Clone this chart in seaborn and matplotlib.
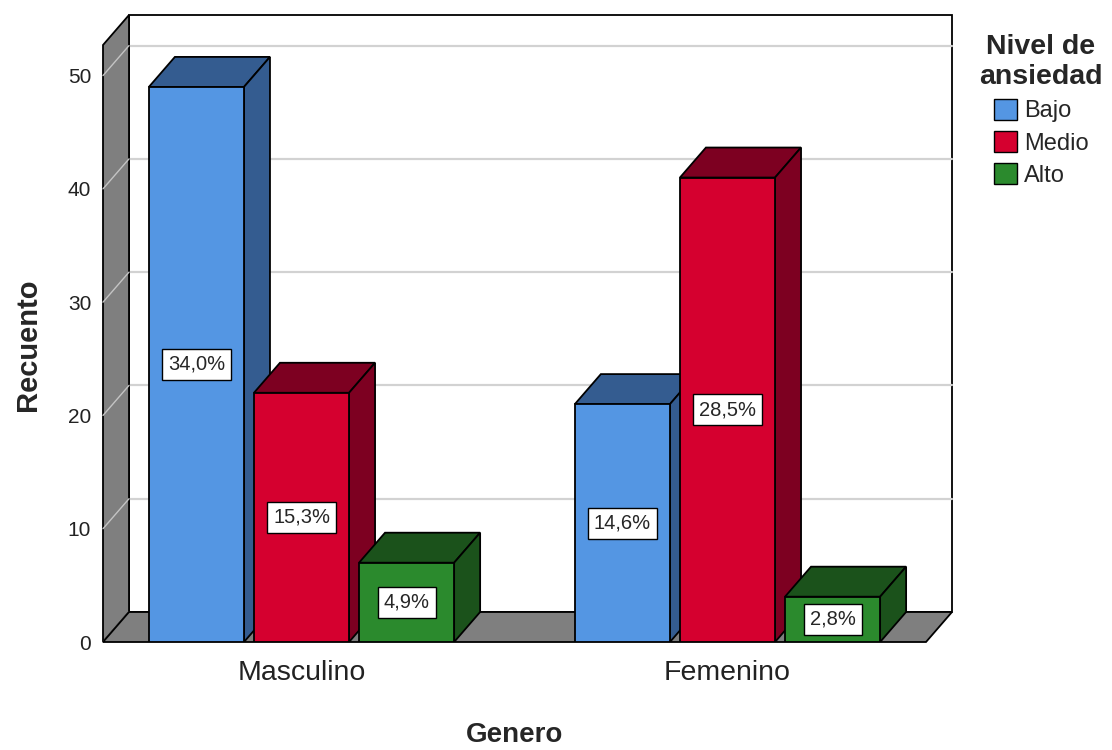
import numpy as np
import pandas as pd
import matplotlib
matplotlib.use("Agg")
import matplotlib.pyplot as plt
from matplotlib.patches import Polygon, Patch
import seaborn as sns

# Counts per gender and anxiety level
generos = ["Masculino", "Femenino"]
niveles = ["Bajo", "Medio", "Alto"]
recuento_masculino = [49, 22, 7]
recuento_femenino = [21, 41, 4]
marcas_y = [0, 10, 20, 30, 40, 50]

# Front-face colours and darker shades for top/side faces
colores = ["#5496e3", "#d5002f", "#2b8a2d"]
colores_sombra = ["#345c90", "#7d0021", "#1b521b"]

df = pd.DataFrame({
    "Genero": np.repeat(generos, len(niveles)),
    "Nivel": niveles * len(generos),
    "Recuento": recuento_masculino + recuento_femenino,
})
total = df["Recuento"].sum()

sns.set_style("white")
plt.rcParams["font.family"] = ["Liberation Sans", "DejaVu Sans"]

W, H = 1112, 750
fig = plt.figure(figsize=(W / 100, H / 100), dpi=100)
ax = fig.add_axes([103 / W, (H - 642) / H, 823 / W, 597 / H])

sns.barplot(data=df, x="Genero", y="Recuento", hue="Nivel",
            order=generos, hue_order=niveles, palette=colores,
            width=0.74, gap=0.095, saturation=1, edgecolor="black",
            linewidth=1.3, legend=False, ax=ax)

ax.set_xlim(-0.466, 1.466)
ax.set_ylim(0, 52.7)
xl, xr = ax.get_xlim()
yb, yt = ax.get_ylim()

# depth of the pseudo-3D box, in pixels, converted to data units
p0 = ax.transData.transform((0, 0))
p1 = ax.transData.transform((1, 1))
ddx = 26 / (p1[0] - p0[0])
ddy = 30 / (p1[1] - p0[1])

for s in ax.spines.values():
    s.set_visible(False)
ax.set_facecolor("none")
ax.grid(False)

# back wall with gridlines
ax.add_patch(Polygon([(xl + ddx, ddy), (xr + ddx, ddy), (xr + ddx, yt + ddy), (xl + ddx, yt + ddy)],
                     closed=True, fc="white", ec="black", lw=1.3, clip_on=False, zorder=0.5))
for v in marcas_y[1:]:
    ax.plot([xl + ddx, xr + ddx], [v + ddy, v + ddy], color="#d2d2d2", lw=1.6,
            clip_on=False, zorder=0.6)

# left side wall
ax.add_patch(Polygon([(xl, 0), (xl, yt), (xl + ddx, yt + ddy), (xl + ddx, ddy)],
                     closed=True, fc="#7f7f7f", ec="black", lw=1.3, clip_on=False, zorder=0.7))
for v in marcas_y:
    ax.plot([xl, xl + ddx], [v, v + ddy], color="#c4c4c4", lw=1.0, clip_on=False, zorder=0.8)

# floor
ax.add_patch(Polygon([(xl, 0), (xr, 0), (xr + ddx, ddy), (xl + ddx, ddy)],
                     closed=True, fc="#7f7f7f", ec="black", lw=1.3, clip_on=False, zorder=0.9))

# give every bar its top and side face, drawn left to right
barras = []
for hi, cont in enumerate(ax.containers):
    for bar in cont:
        barras.append((bar.get_x(), bar, hi))
barras.sort(key=lambda t: t[0])

for k, (_, bar, hi) in enumerate(barras):
    z = 3 + k
    x0 = bar.get_x()
    x1 = x0 + bar.get_width()
    h = bar.get_height()
    bar.set_zorder(z + 0.2)
    ax.add_patch(Polygon([(x0, h), (x1, h), (x1 + ddx, h + ddy), (x0 + ddx, h + ddy)],
                         closed=True, fc=colores_sombra[hi], ec="black", lw=1.3, zorder=z))
    ax.add_patch(Polygon([(x1, 0), (x1, h), (x1 + ddx, h + ddy), (x1 + ddx, ddy)],
                         closed=True, fc=colores_sombra[hi], ec="black", lw=1.3, zorder=z))
    etiqueta = f"{h / total * 100:.1f}".replace(".", ",") + "%"
    ax.text((x0 + x1) / 2, h / 2, etiqueta, ha="center", va="center", fontsize=14.5,
            bbox=dict(boxstyle="square,pad=0.3", fc="white", ec="black", lw=1.0),
            zorder=z + 0.5)

ax.set_yticks(marcas_y)
ax.tick_params(axis="y", length=0, pad=8.5, labelsize=15, labelcolor="#222222")
ax.tick_params(axis="x", length=0, pad=13, labelsize=20.5, labelcolor="#222222")

ax.set_xlabel("Genero", fontsize=20, fontweight="bold")
ax.xaxis.set_label_coords(0.5, -(735 - 642) / 597)
ax.xaxis.label.set_va("center")
ax.set_ylabel("Recuento", fontsize=21, fontweight="bold")
ax.yaxis.set_label_coords((28 - 103) / 823, (642 - 345) / 597)
ax.yaxis.label.set_va("center")

handles = [Patch(fc=c, ec="black", lw=1.0) for c in colores]
leg = fig.legend(handles, niveles, title="Nivel de\nansiedad", loc="upper center",
                 bbox_to_anchor=(1041 / W, 1 - 13 / H), frameon=False, fontsize=17,
                 title_fontproperties={"weight": "bold", "size": 20.5},
                 handlelength=0.97, handleheight=0.97, handletextpad=0.3,
                 labelspacing=0.37, alignment="center")
leg.get_title().set_multialignment("center")

fig.savefig("out.png", dpi=100)
